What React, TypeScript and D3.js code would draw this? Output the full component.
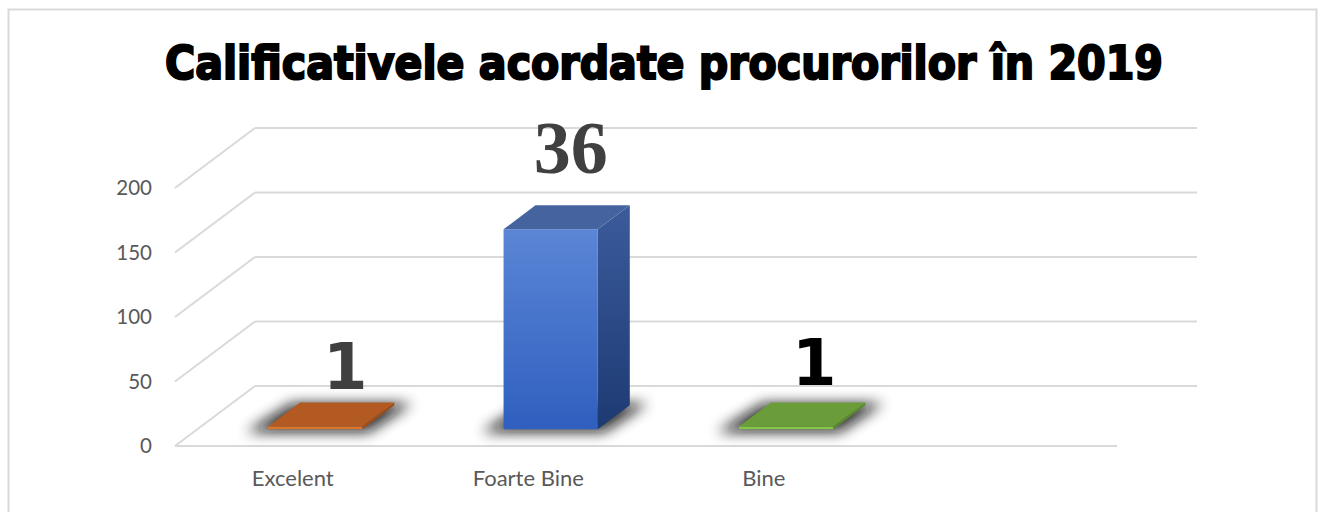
import * as d3 from 'd3';

const categories = ['Excelent', 'Foarte Bine', 'Bine', ''];
const values = [2, 155, 2, 0];
const dataLabels = ['1', '36', '1', ''];
const yTicks = [0, 50, 100, 150, 200];

// colours for each bar: front, side, top
const palette = [
  { front: ['#e27b2e', '#d86f24'], side: '#a04c18', top: '#b35a22' },
  { front: ['#5b86d6', '#2f5fbf'], side: ['#3b5b9c', '#1d3a72'], top: '#45649f' },
  { front: ['#8bd04a', '#7cc23e'], side: '#5a8a2c', top: '#6b9c3a' },
  { front: ['#999', '#888'], side: '#777', top: '#888' },
];
const labelStyle = [
  { font: 'DejaVu Sans', size: 64, color: '#404040', gap: 14, dx: 30 },
  { font: 'Liberation Serif', size: 74, color: '#404040', gap: 32, dx: 20 },
  { font: 'DejaVu Sans', size: 64, color: '#000000', gap: 18, dx: 28 },
  { font: 'DejaVu Sans', size: 64, color: '#000000', gap: 18, dx: 28 },
];

const W = 1320;
const H = 512;
// depth of the 3d box
const DX = 80;
const DY = -60;
const barFront = 0.28;
const barDepth = 0.4;

export default function App() {
  const x = d3.scaleBand<string>().domain(categories).range([175, 1117]).paddingInner(0).paddingOuter(0);
  const y = d3.scaleLinear().domain([0, 200]).range([446, 188]);
  const bw = x.bandwidth() * 0.4;

  const pt = (px: number, py: number) => `${px.toFixed(1)},${py.toFixed(1)}`;

  return (
    <svg width={W} height={H} style={{ position: 'absolute', left: 0, top: 0, background: '#fff' }}>
      <defs>
        <filter id="blur" x="-50%" y="-100%" width="200%" height="300%">
          <feGaussianBlur stdDeviation="7" />
        </filter>
        {palette.map((p, i) => (
          <g key={i}>
            <linearGradient id={`front${i}`} x1="0" y1="0" x2="0" y2="1">
              <stop offset="0" stopColor={p.front[0]} />
              <stop offset="1" stopColor={p.front[1]} />
            </linearGradient>
            <linearGradient id={`side${i}`} x1="0" y1="0" x2="0" y2="1">
              <stop offset="0" stopColor={Array.isArray(p.side) ? p.side[0] : p.side} />
              <stop offset="1" stopColor={Array.isArray(p.side) ? p.side[1] : p.side} />
            </linearGradient>
          </g>
        ))}
      </defs>
      <rect x={8.5} y={9.5} width={1308} height={520} fill="#fff" stroke="#d9d9d9" strokeWidth={2} />

      <text
        x={664}
        y={79}
        textAnchor="middle"
        fontFamily="DejaVu Sans"
        fontWeight="bold"
        fontSize={46}
        stroke="#000"
        strokeWidth={2.2}
        textLength={998}
        lengthAdjust="spacingAndGlyphs"
      >
        Calificativele acordate procurorilor în 2019
      </text>

      {/* back wall gridlines and side wall diagonals */}
      {yTicks.map(t => (
        <g key={t}>
          <line x1={175 + DX} x2={1117 + DX} y1={y(t) + DY} y2={y(t) + DY} stroke="#d9d9d9" strokeWidth={2} />
          <line x1={175} x2={175 + DX} y1={y(t)} y2={y(t) + DY} stroke="#d9d9d9" strokeWidth={2} />
          <text
            x={152}
            y={y(t)}
            dy="0.35em"
            textAnchor="end"
            fontFamily="Lato"
            fontSize={20.5}
            fill="#595959"
          >
            {t}
          </text>
        </g>
      ))}
      <line x1={175} x2={1117} y1={y(0)} y2={y(0)} stroke="#d9d9d9" strokeWidth={2} />

      {/* bars */}
      {categories.map((c, i) => {
        if (!values[i]) return null;
        const cx = (x(c) ?? 0) + x.bandwidth() / 2;
        const x0 = cx - bw / 2 + barFront * DX;
        const x1 = x0 + bw;
        const yb = y(0) + barFront * DY;
        const yt = yb - (y(0) - y(values[i]));
        const ox = barDepth * DX;
        const oy = barDepth * DY;
        const shadow = [
          pt(x0 - 22, yb + 3),
          pt(x1 + 6, yb + 3),
          pt(x1 + ox + 18, yb + oy - 2),
          pt(x0 + ox - 8, yb + oy - 2),
        ].join(' ');
        return (
          <g key={c}>
            <polygon points={shadow} fill="#111" opacity={0.85} filter="url(#blur)" />
            <rect x={x0} y={yt} width={bw} height={yb - yt} fill={`url(#front${i})`} />
            <polygon
              points={[pt(x1, yt), pt(x1 + ox, yt + oy), pt(x1 + ox, yb + oy), pt(x1, yb)].join(' ')}
              fill={`url(#side${i})`}
            />
            <polygon
              points={[pt(x0, yt), pt(x1, yt), pt(x1 + ox, yt + oy), pt(x0 + ox, yt + oy)].join(' ')}
              fill={palette[i].top}
            />
          </g>
        );
      })}

      {/* data labels */}
      {categories.map((c, i) => {
        if (!dataLabels[i]) return null;
        const s = labelStyle[i];
        const cx = (x(c) ?? 0) + x.bandwidth() / 2 + barFront * DX;
        const top = y(values[i]) + (barFront + barDepth) * DY;
        return (
          <text
            key={c}
            x={cx + s.dx}
            y={top - s.gap}
            textAnchor="middle"
            fontFamily={s.font}
            fontWeight="bold"
            fontSize={s.size}
            fill={s.color}
          >
            {dataLabels[i]}
          </text>
        );
      })}

      {/* category labels */}
      {categories.map(c => (
        <text
          key={c}
          x={(x(c) ?? 0) + x.bandwidth() / 2}
          y={486}
          textAnchor="middle"
          fontFamily="Lato"
          fontSize={22}
          fill="#595959"
        >
          {c}
        </text>
      ))}
    </svg>
  );
}
